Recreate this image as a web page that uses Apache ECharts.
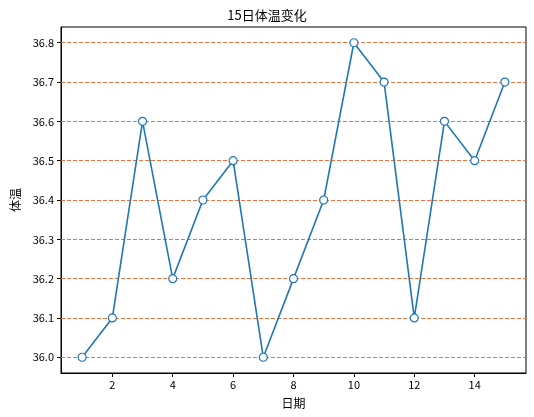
<!DOCTYPE html>
<html><head><meta charset="utf-8">
<script src="https://cdn.jsdelivr.net/npm/echarts@6/dist/echarts.min.js"></script>
<style>html,body{margin:0;padding:0;background:#fff}#c{width:534px;height:417px}</style>
</head><body><div id="c"></div>
<script>
const days = [1,2,3,4,5,6,7,8,9,10,11,12,13,14,15];
const temps = [36.0,36.1,36.6,36.2,36.4,36.5,36.0,36.2,36.4,36.8,36.7,36.1,36.6,36.5,36.7];
const xTicks = [2,4,6,8,10,12,14];
const yTicks = [36.0,36.1,36.2,36.3,36.4,36.5,36.6,36.7,36.8];
const font = '"Noto Sans CJK SC", "DejaVu Sans", sans-serif';
const chart = echarts.init(document.getElementById('c'));
chart.setOption({
  animation: false,
  title: {text: '15日体温变化', left: 'center', top: 4, textStyle: {fontFamily: font, fontSize: 13, fontWeight: 'normal', color: '#000'}},
  grid: {left: 61, right: 8, top: 27, bottom: 44, show: true, borderColor: '#000', borderWidth: 1, outerBoundsMode: 'none', containLabel: false},
  xAxis: {
    type: 'value', min: 0.3, max: 15.7,
    name: '日期', nameLocation: 'middle', nameGap: 24,
    nameTextStyle: {fontFamily: font, fontSize: 12, color: '#000'},
    axisLine: {show: true, lineStyle: {color: '#000'}},
    axisTick: {show: true, length: 4, customValues: xTicks, lineStyle: {color: '#000'}},
    axisLabel: {customValues: xTicks, fontFamily: font, fontSize: 11, color: '#000', margin: 6},
    splitLine: {show: false}
  },
  yAxis: {
    type: 'value', min: 35.96, max: 36.84,
    name: '体温', nameLocation: 'middle', nameGap: 40, nameRotate: 90,
    nameTextStyle: {fontFamily: font, fontSize: 12, color: '#000'},
    axisLine: {show: true, lineStyle: {color: '#000'}},
    axisTick: {show: true, length: 4, customValues: yTicks, lineStyle: {color: '#000'}},
    axisLabel: {customValues: yTicks, fontFamily: font, fontSize: 11, color: '#000', margin: 7, formatter: v => v.toFixed(1)},
    splitLine: {show: false}
  },
  series: [
    {
      type: 'line', data: [], z: 1, silent: true,
      markLine: {
        silent: true, symbol: 'none', label: {show: false},
        lineStyle: {type: [4, 2], color: '#ee6a35', width: 1, opacity: 0.95},
        data: yTicks.map(v => ({yAxis: v}))
      }
    },
    {
      type: 'line', z: 5,
      data: days.map((d, i) => [d, temps[i]]),
      symbol: 'circle', symbolSize: 8,
      lineStyle: {color: '#1f77b4', width: 1.6},
      itemStyle: {color: '#fff', borderColor: '#1f77b4', borderWidth: 1.2}
    }
  ]
});
</script></body></html>
